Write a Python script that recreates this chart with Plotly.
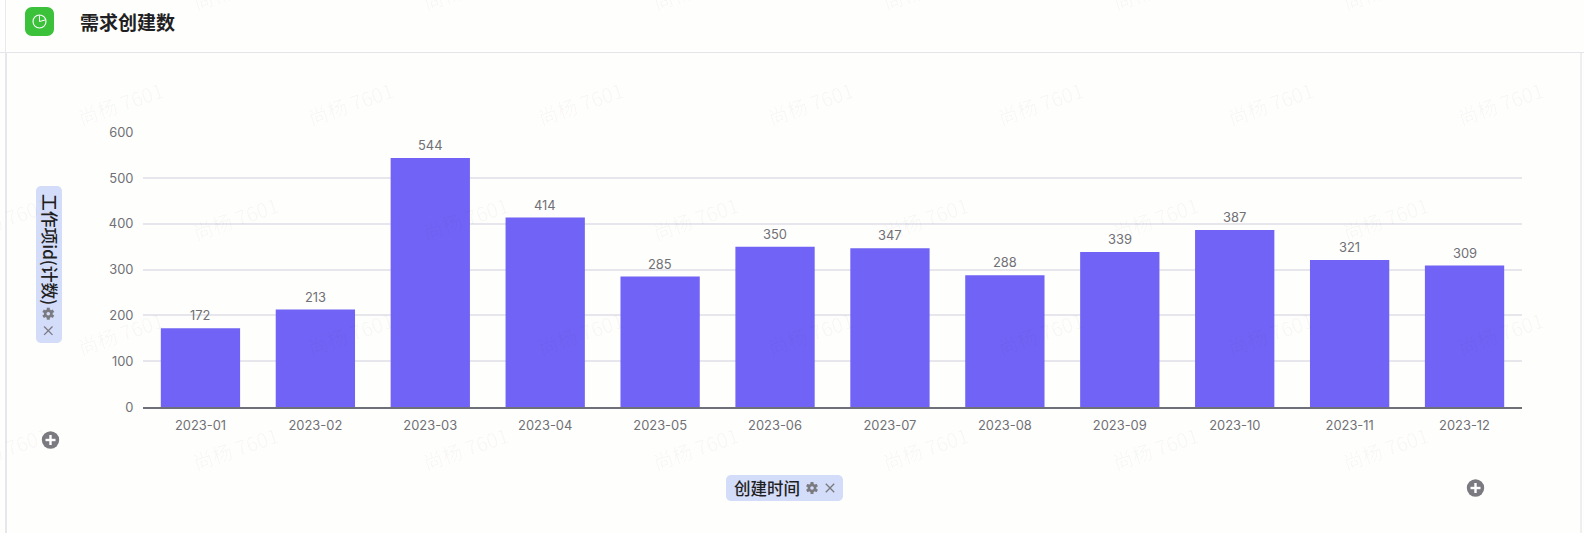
import plotly.graph_objects as go

months = ["2023-01","2023-02","2023-03","2023-04","2023-05","2023-06","2023-07","2023-08","2023-09","2023-10","2023-11","2023-12"]
counts = [172,213,544,414,285,350,347,288,339,387,321,309]
y_ticks = [0,100,200,300,400,500,600]
title_text = "需求创建数"
y_field = "工作项id(计数)"
x_field = "创建时间"
watermark = "尚杨 7601"

FW, FH = 1584, 533
L, R, T, B = 143, 1522, 132, 407
W, H = R - L, B - T
def px(x): return (x - L) / W
def py(y): return 1 - (y - T) / H

LATIN = "Inter, 'Noto Sans CJK SC', sans-serif"
CJK = "'Noto Sans CJK SC', sans-serif"
INK = "#1f1f24"
PILL = "#d3dcf8"
ICON = "#7a7a80"
LABEL = "#707076"

shapes = []; ann = []
def path(d, **kw):
    shapes.append(dict(type="path", path=d, xref="paper", yref="paper", layer=kw.pop("layer","above"), **kw))
def rrect(x0,y0,x1,y1,r):
    k=0.45*r
    pts=[("M",x0+r,y0),("L",x1-r,y0),("C",x1-k,y0,x1,y0+k,x1,y0+r),("L",x1,y1-r),("C",x1,y1-k,x1-k,y1,x1-r,y1),
         ("L",x0+r,y1),("C",x0+k,y1,x0,y1-k,x0,y1-r),("L",x0,y0+r),("C",x0,y0+k,x0+k,y0,x0+r,y0)]
    s=""
    for p in pts:
        s+=p[0]+" "+" ".join(f"{px(p[i]):.5f},{py(p[i+1]):.5f}" for i in range(1,len(p),2))+" "
    return s+"Z"
def box(x0,y0,x1,y1,r,fill,line=None,lw=0,layer="above"):
    path(rrect(x0,y0,x1,y1,r),fillcolor=fill,line=dict(color=line or fill,width=lw),layer=layer)
def seg(x0,y0,x1,y1,color,w):
    shapes.append(dict(type="line",xref="paper",yref="paper",x0=px(x0),x1=px(x1),y0=py(y0),y1=py(y1),line=dict(color=color,width=w)))
def circ(cx,cy,r,fill,line=None,lw=0):
    shapes.append(dict(type="circle",xref="paper",yref="paper",x0=px(cx-r),x1=px(cx+r),y0=py(cy-r),y1=py(cy+r),fillcolor=fill,line=dict(color=line or fill,width=lw)))
def text(x,y,t,size,color,font=CJK,angle=0,weight=None):
    f=dict(size=size,color=color,family=font)
    if weight: f["weight"]=weight
    ann.append(dict(text=t,x=px(x),y=py(y),xref="paper",yref="paper",showarrow=False,font=f,textangle=angle,xanchor="center",yanchor="middle"))
def gear(cx,cy,r=6):
    import math
    for a in range(30,210,60):
        c,s=math.cos(math.radians(a)),math.sin(math.radians(a))
        seg(cx-c*r,cy-s*r,cx+c*r,cy+s*r,ICON,3)
    circ(cx,cy,4.4,ICON); circ(cx,cy,1.8,PILL)
def cross(cx,cy,r=4.2):
    seg(cx-r,cy-r,cx+r,cy+r,ICON,1.3); seg(cx-r,cy+r,cx+r,cy-r,ICON,1.3)
def plus(cx,cy):
    circ(cx,cy,8.7,ICON); seg(cx-5,cy,cx+5,cy,"#ffffff",2.4); seg(cx,cy-5,cx,cy+5,"#ffffff",2.4)

# panel borders
seg(0,52.5,FW,52.5,"#e4e4ea",1.2)
seg(5.5,0,5.5,52,"#e8e8ee",1)
seg(6,52,6,533,"#e6e6ec",2)
seg(1581,52,1581,533,"#e4e4ea",1.2)

# watermarks
for row,yy in enumerate([-12,103,218,333,448]):
    off = 120 if row%2 else 5
    for k in range(0,8):
        if off+230*k < FW+30:
            text(off+230*k,yy,watermark,20,"rgba(60,60,80,0.035)",font=CJK,angle=-19)

# header
box(25,7,54,36,7,"#3cc13b")
circ(39.5,21.5,6.5,"rgba(0,0,0,0)","#ffffff",1.1)
seg(39.5,21.5,39.5,15.5,"#ffffff",1); seg(39.5,21.5,45,20,"#ffffff",1)
ann.append(dict(text=title_text,x=px(77.5),y=py(21),xref="paper",yref="paper",showarrow=False,xanchor="left",yanchor="middle",
                font=dict(size=19,color=INK,family=CJK,weight=600)))

# y pill
box(36,186,62,343,5,PILL)
text(50,249,y_field,16.8,INK,font=CJK,angle=90,weight=500)
gear(48.3,313.7); cross(48.3,330.7)
plus(50.5,440)

# x pill
box(726,475,843,501,5,PILL)
text(767,487.5,x_field,16.5,INK,font=CJK,weight=500)
gear(812,488); cross(830,488)
plus(1475.5,488)

# value labels, placed through the chart's own axes
for m,v in zip(months,counts):
    ann.append(dict(text=str(v),x=m,y=v,xref="x",yref="y",showarrow=False,yanchor="middle",xanchor="center",yshift=12.5,
                    font=dict(family=LATIN,size=12.9,color=LABEL)))

fig = go.Figure(go.Bar(x=months,y=counts,width=0.69,marker=dict(color="#7063f5",line=dict(width=0)),hoverinfo="x+y"))
fig.update_layout(width=FW,height=FH,margin=dict(l=L,r=FW-R,t=T,b=FH-B,autoexpand=False),
    paper_bgcolor="#fefefc",plot_bgcolor="rgba(0,0,0,0)",showlegend=False,
    shapes=shapes,annotations=ann,
    xaxis=dict(type="category",showgrid=False,showline=True,linecolor="#6e7079",linewidth=1.5,ticks="outside",ticklen=6,tickcolor="rgba(0,0,0,0)",
               tickfont=dict(family=LATIN,size=12.9,color=LABEL),fixedrange=True),
    yaxis=dict(range=[0,601],tickvals=y_ticks,showgrid=True,gridcolor="#e6e6ec",gridwidth=1.5,zeroline=False,showline=False,ticks="outside",ticklen=6,
               tickcolor="rgba(0,0,0,0)",tickfont=dict(family=LATIN,size=12.9,color=LABEL),fixedrange=True))
fig.write_html("out.html",config=dict(displayModeBar=False),post_script="document.body.style.margin='0';document.body.style.overflow='hidden';")
